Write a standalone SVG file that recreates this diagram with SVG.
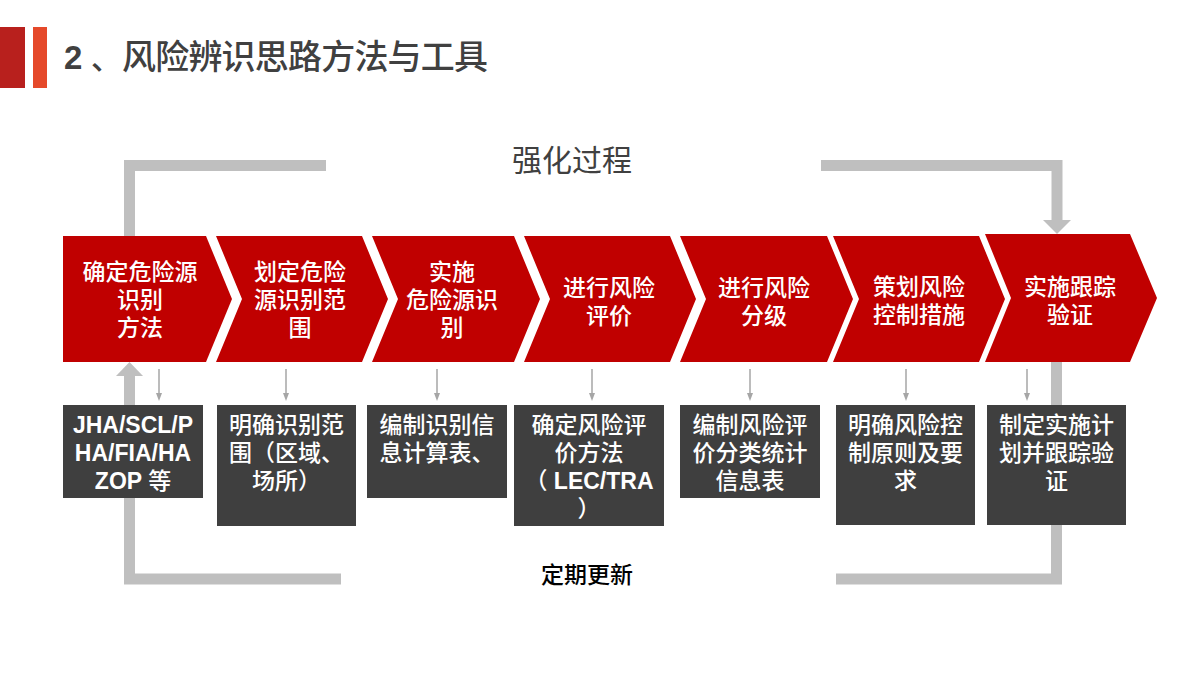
<svg xmlns="http://www.w3.org/2000/svg" width="1200" height="674" viewBox="0 0 1200 674">
<defs>
<style>
.chev{fill:#c00000}
.box{fill:#3f3f3f}
.wt{fill:#fff;font-family:"Liberation Sans","Noto Sans CJK SC",sans-serif;font-size:23px;font-weight:500;text-anchor:middle}
.lat{font-weight:bold}
.bar{fill:none;stroke:#bfbfbf;stroke-width:11}
.hd{fill:#bfbfbf}
.thin{stroke:#a6a6a6;stroke-width:1.5;fill:none}
</style>
<marker id="ah" markerWidth="8" markerHeight="8" refX="2" refY="4" orient="auto" markerUnits="userSpaceOnUse" viewBox="0 0 8 8">
<path d="M0,1 L8,4 L0,7 Z" fill="#a6a6a6"/>
</marker>
</defs>
<rect width="1200" height="674" fill="#fff"/>
<g id="title">
<rect x="0" y="27" width="25" height="61" fill="#b8201d"/>
<rect x="33" y="27" width="14" height="61" fill="#e5492a"/>
<text y="69" font-family="'Liberation Sans','Noto Sans CJK SC',sans-serif" font-size="33" font-weight="bold" fill="#404040"><tspan x="64">2</tspan><tspan x="91" font-size="30" font-weight="500">、</tspan><tspan x="122" font-size="34" font-weight="500" textLength="366" lengthAdjust="spacing">风险辨识思路方法与工具</tspan></text>
</g>
<g id="connectors">
<polyline class="bar" points="129.5,236 129.5,165.5 326,165.5"/>
<polyline class="bar" points="821,165.5 1057,165.5 1057,221"/>
<polygon class="hd" points="1043,220 1071,220 1057,234"/>
<polyline class="bar" points="341,579 129.5,579 129.5,375"/>
<polygon class="hd" points="116,376 143,376 129.5,362"/>
<polyline class="bar" points="836,579 1056.5,579 1056.5,362"/>
<g class="thin">
<line x1="159" y1="369" x2="159" y2="395" marker-end="url(#ah)"/>
<line x1="286" y1="369" x2="286" y2="395" marker-end="url(#ah)"/>
<line x1="437" y1="369" x2="437" y2="395" marker-end="url(#ah)"/>
<line x1="592" y1="369" x2="592" y2="395" marker-end="url(#ah)"/>
<line x1="750" y1="369" x2="750" y2="395" marker-end="url(#ah)"/>
<line x1="906" y1="369" x2="906" y2="395" marker-end="url(#ah)"/>
<line x1="1027" y1="369" x2="1027" y2="395" marker-end="url(#ah)"/>
</g>
</g>
<g id="label-strengthen">
<text x="572" y="171" font-family="'Noto Sans CJK SC',sans-serif" font-size="30" fill="#404040" text-anchor="middle">强化过程</text>
</g>
<g id="label-update">
<text x="587" y="583" font-family="'Noto Sans CJK SC',sans-serif" font-size="23" font-weight="500" fill="#000" text-anchor="middle">定期更新</text>
</g>
<g id="step1">
<path class="chev" d="M63,236 H206 L232,299 L206,362 H63 Z"/>
<text class="wt"><tspan x="140" y="280">确定危险源</tspan><tspan x="140" y="308">识别</tspan><tspan x="140" y="336">方法</tspan></text>
</g>
<g id="step2">
<path class="chev" d="M216,236 H362 L388,299 L362,362 H216 L242,299 Z"/>
<text class="wt"><tspan x="300" y="280">划定危险</tspan><tspan x="300" y="308">源识别范</tspan><tspan x="300" y="336">围</tspan></text>
</g>
<g id="step3">
<path class="chev" d="M372,236 H514 L540,299 L514,362 H372 L398,299 Z"/>
<text class="wt"><tspan x="452" y="280">实施</tspan><tspan x="452" y="308">危险源识</tspan><tspan x="452" y="336">别</tspan></text>
</g>
<g id="step4">
<path class="chev" d="M524,236 H670 L696,299 L670,362 H524 L550,299 Z"/>
<text class="wt"><tspan x="609" y="296">进行风险</tspan><tspan x="609" y="324">评价</tspan></text>
</g>
<g id="step5">
<path class="chev" d="M680,236 H827 L853,299 L827,362 H680 L706,299 Z"/>
<text class="wt"><tspan x="764" y="296">进行风险</tspan><tspan x="764" y="324">分级</tspan></text>
</g>
<g id="step6">
<path class="chev" d="M833,236 H979 L1005,299 L979,362 H833 L859,299 Z"/>
<text class="wt"><tspan x="919" y="295">策划风险</tspan><tspan x="919" y="323">控制措施</tspan></text>
</g>
<g id="step7">
<path class="chev" d="M985,234 H1130 L1157,298 L1130,362 H985 L1011,298 Z"/>
<text class="wt"><tspan x="1070" y="295">实施跟踪</tspan><tspan x="1070" y="323">验证</tspan></text>
</g>
<g id="box1">
<rect class="box" x="63" y="405" width="140" height="93"/>
<text class="wt"><tspan x="133" y="433" class="lat">JHA/SCL/P</tspan><tspan x="133" y="461" class="lat">HA/FIA/HA</tspan><tspan x="133" y="489"><tspan class="lat">ZOP </tspan>等</tspan></text>
</g>
<g id="box2">
<rect class="box" x="217" y="405" width="139" height="121"/>
<text class="wt"><tspan x="286.5" y="433">明确识别范</tspan><tspan x="286.5" y="461">围（区域、</tspan><tspan x="286.5" y="489">场所）</tspan></text>
</g>
<g id="box3">
<rect class="box" x="367" y="405" width="140" height="93"/>
<text class="wt"><tspan x="437" y="433">编制识别信</tspan><tspan x="437" y="461">息计算表、</tspan></text>
</g>
<g id="box4">
<rect class="box" x="514" y="405" width="150" height="121"/>
<text class="wt"><tspan x="589" y="433">确定风险评</tspan><tspan x="589" y="461">价方法</tspan><tspan x="589" y="489">（ <tspan class="lat">LEC/TRA</tspan></tspan><tspan x="589" y="517">）</tspan></text>
</g>
<g id="box5">
<rect class="box" x="680" y="405" width="140" height="93"/>
<text class="wt"><tspan x="750" y="433">编制风险评</tspan><tspan x="750" y="461">价分类统计</tspan><tspan x="750" y="489">信息表</tspan></text>
</g>
<g id="box6">
<rect class="box" x="836" y="405" width="139" height="120"/>
<text class="wt"><tspan x="905.5" y="433">明确风险控</tspan><tspan x="905.5" y="461">制原则及要</tspan><tspan x="905.5" y="489">求</tspan></text>
</g>
<g id="box7">
<rect class="box" x="987" y="405" width="139" height="120"/>
<text class="wt"><tspan x="1056.5" y="433">制定实施计</tspan><tspan x="1056.5" y="461">划并跟踪验</tspan><tspan x="1056.5" y="489">证</tspan></text>
</g>
</svg>
